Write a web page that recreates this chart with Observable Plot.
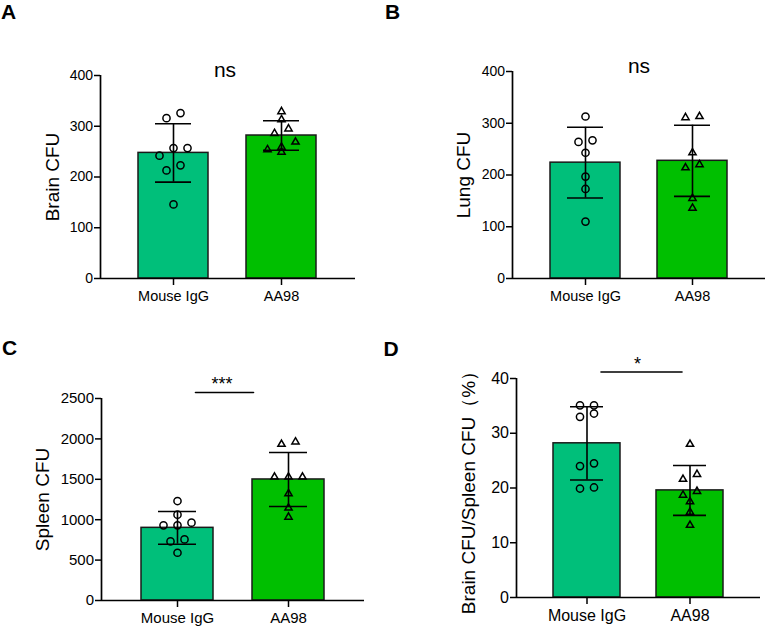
<!DOCTYPE html>
<html>
<head>
<meta charset="utf-8">
<script src="https://cdn.jsdelivr.net/npm/d3@7"></script>
<script src="https://cdn.jsdelivr.net/npm/@observablehq/plot@0.6"></script>
<style>
  html, body { margin: 0; padding: 0; background: #fff; }
  #figure { position: relative; width: 767px; height: 627px; background: #fff;
            font-family: "Liberation Sans", Arial, sans-serif; overflow: hidden; }
  .panel { position: absolute; }
  .panel svg { display: block; }
  .letter { position: absolute; font-size: 21px; font-weight: bold; line-height: 21px; color: #000; }
</style>
</head>
<body>
<div id="figure"></div>
<script>
// Treatment groups
const groups = ["Mouse IgG", "AA98"];
const groupColors = ["#00bf7a", "#00bf00"];

// Individual animals, per organ
const brainIgG = [326, 316, 257, 257, 242, 223, 213, 146];
const brainAA98 = [329, 313, 295, 286, 269, 259, 254, 249];
const lungIgG = [313, 267, 264, 243, 197, 173, 110];
const lungAA98 = [313, 311, 243, 220, 214, 155, 136];
const spleenIgG = [1231, 1062, 963, 930, 930, 756, 731, 591];
const spleenAA98 = [1963, 1934, 1529, 1529, 1529, 1322, 1145, 1033];
const ratioIgG = [35.1, 35.1, 33.6, 33.0, 24.5, 24.0, 20.1, 19.9];
const ratioAA98 = [28.0, 22.5, 21.6, 19.4, 18.7, 17.5, 15.6, 13.2];

// Axis ticks
const brainTicks = [0, 100, 200, 300, 400];
const lungTicks = [0, 100, 200, 300, 400];
const spleenTicks = [0, 500, 1000, 1500, 2000, 2500];
const ratioTicks = [0, 10, 20, 30, 40];

// Panel text
const panelLetters = ["A", "B", "C", "D"];
const yTitles = ["Brain CFU", "Lung CFU", "Spleen CFU", "Brain CFU/Spleen CFU（%）"];
const sigLabels = ["ns", "ns", "***", "*"];
const sigBrackets = [false, false, true, true];

const panels = [
  {values: [brainIgG, brainAA98], ticks: brainTicks,
   left: 0, top: 0, width: 383, height: 313, mt: 75, mr: 28, mb: 35, ml: 100,
   labelOffset: 55, tickFont: 14, xFont: 14.5, letterX: 1, letterY: 0.5, sigDx: -3, insets: [0, 0]},
  {values: [lungIgG, lungAA98], ticks: lungTicks,
   left: 383, top: 0, width: 384, height: 313, mt: 71, mr: 2, mb: 35, ml: 129,
   labelOffset: 56, tickFont: 14, xFont: 14.5, letterX: 2, letterY: 1, sigDx: 0, insets: [0, 0]},
  {values: [spleenIgG, spleenAA98], ticks: spleenTicks,
   left: 0, top: 313, width: 383, height: 314, mt: 85, mr: 19, mb: 27, ml: 101,
   labelOffset: 66, tickFont: 15, xFont: 15, letterX: 2, letterY: 24, sigDx: -11, insets: [18, 35]},
  {values: [ratioIgG, ratioAA98], ticks: ratioTicks,
   left: 383, top: 313, width: 384, height: 314, mt: 65, mr: 7, mb: 30, ml: 133,
   labelOffset: 55, tickFont: 16, xFont: 16, letterX: 0.5, letterY: 25, sigDx: -1, insets: [14, 8]}
];

// Arrange points that sit at nearly the same height side by side
function spreadPoints(values, pxPerUnit, step) {
  const sorted = values.slice().sort((a, b) => b - a);
  const rows = [];
  let row = null;
  for (const v of sorted) {
    if (row && (row[0] - v) * pxPerUnit < 7.8) row.push(v);
    else { row = [v]; rows.push(row); }
  }
  const out = [];
  for (const r of rows) {
    r.sort((a, b) => a - b);
    r.forEach((v, i) => out.push({value: v, offset: (i - (r.length - 1) / 2) * step}));
  }
  return out;
}

const figure = document.getElementById("figure");

panels.forEach((p, pi) => {
  const yMax = d3.max(p.ticks);
  const pxPerUnit = (p.height - p.mt - p.mb) / yMax;
  const frameWidth = p.width - p.ml - p.mr;

  const stats = groups.map((g, gi) => {
    const vals = p.values[gi];
    const m = d3.mean(vals), s = d3.deviation(vals);
    return {group: g, mean: m, lo: m - s, hi: m + s};
  });

  // individual points: hollow circles for the control, hollow triangles for AA98
  const dotMarks = [];
  groups.forEach((g, gi) => {
    const pts = spreadPoints(p.values[gi], pxPerUnit, 14).map(d => ({group: g, ...d}));
    for (const [offset, sub] of d3.group(pts, d => d.offset)) {
      dotMarks.push(Plot.dot(sub, {
        x: "group", y: "value", dx: offset,
        symbol: gi === 0 ? "circle" : "triangle",
        r: gi === 0 ? 3.6 : 2.7,
        fill: "none", stroke: "#000", strokeWidth: 1.5
      }));
    }
  });

  const sig = [{from: groups[0], to: groups[1], label: sigLabels[pi],
                y: sigBrackets[pi] ? yMax * 1.03 : yMax}];

  const marks = [
    Plot.barY(stats, {x: "group", y: "mean", fill: "group", stroke: "#1a1a1a", strokeWidth: 1.5}),
    ...dotMarks,
    Plot.ruleX(stats, {x: "group", y1: "lo", y2: "hi", stroke: "#000", strokeWidth: 1.6}),
    Plot.tickY(stats, {x: "group", y: "hi", insetLeft: 17, insetRight: 17, stroke: "#000", strokeWidth: 1.6}),
    Plot.tickY(stats, {x: "group", y: "lo", insetLeft: 17, insetRight: 17, stroke: "#000", strokeWidth: 1.6}),
    // axis lines: baseline along y = 0, and a vertical rule along the frame's left edge
    Plot.ruleY([0], {stroke: "#000", strokeWidth: 1.7}),
    Plot.ruleX([yMax], {x: null, y1: 0, y2: d => d, dx: -frameWidth / 2, stroke: "#000", strokeWidth: 1.7}),
    Plot.axisY({ticks: p.ticks, tickSize: 6, tickPadding: 1.5, fontSize: p.tickFont, tickFormat: d3.format("d"),
                label: null, stroke: "#000", strokeWidth: 1.5, fill: "#000"}),
    Plot.axisY({ticks: [], tickSize: 0, label: yTitles[pi], labelAnchor: "center", labelArrow: "none",
                labelOffset: p.labelOffset, fontSize: 19, fill: "#000"}),
    Plot.axisX({tickSize: 7, tickPadding: 5, fontSize: p.xFont, label: null,
                stroke: "#000", strokeWidth: 1.5, fill: "#000"}),
    Plot.text(sig, {y: "y", text: "label", frameAnchor: "middle", lineAnchor: "bottom",
                    dx: p.sigDx, dy: sigBrackets[pi] ? -2 : 1,
                    fontSize: sigBrackets[pi] ? 18 : 21, fill: "#000"})
  ];
  if (sigBrackets[pi]) {
    marks.push(Plot.arrow(sig, {x1: "from", x2: "to", y1: "y", y2: "y", headLength: 0, bend: 0,
                                insetStart: p.insets[0], insetEnd: p.insets[1],
                                stroke: "#000", strokeWidth: 1.6}));
  }

  const chart = Plot.plot({
    width: p.width, height: p.height,
    marginTop: p.mt, marginRight: p.mr, marginBottom: p.mb, marginLeft: p.ml,
    style: {fontFamily: "'Liberation Sans', Arial, sans-serif", color: "#000",
            background: "transparent", overflow: "visible"},
    x: {domain: groups, padding: 0.35},
    y: {domain: [0, yMax]},
    color: {domain: groups, range: groupColors},
    marks
  });

  const div = document.createElement("div");
  div.className = "panel";
  div.style.left = p.left + "px";
  div.style.top = p.top + "px";
  div.appendChild(chart);
  figure.appendChild(div);

  const letter = document.createElement("div");
  letter.className = "letter";
  letter.textContent = panelLetters[pi];
  letter.style.left = (p.left + p.letterX) + "px";
  letter.style.top = (p.top + p.letterY) + "px";
  figure.appendChild(letter);
});
</script>
</body>
</html>
